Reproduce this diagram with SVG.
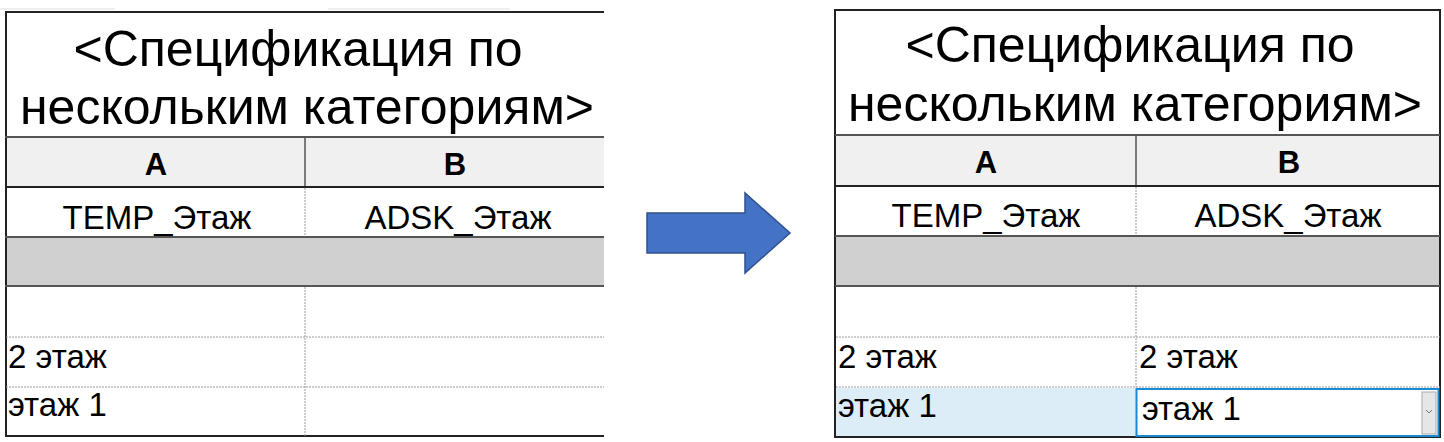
<svg xmlns="http://www.w3.org/2000/svg" width="1444" height="442" viewBox="0 0 1444 442">
<style>
text{font-family:"Liberation Sans",Arial,sans-serif;fill:#000}
.t{font-size:50px}
.h{font-size:31px;font-weight:bold}
.c{font-size:33px}
.dot{stroke:#9a9a9a;stroke-width:1;stroke-dasharray:2 1}
.sol{stroke:#555;stroke-width:2}
</style>
<rect width="1444" height="442" fill="#fff"/>
<g id="left">
<line x1="0" y1="9" x2="115" y2="9" stroke="#ddd"/>
<line x1="328" y1="9" x2="510" y2="9" stroke="#ddd"/>
<rect x="5" y="138" width="599" height="48" fill="#f0f0f0"/>
<rect x="5" y="237" width="599" height="49" fill="#d0d0d0"/>
<path d="M604,12 H6 V436 H604" fill="none" stroke="#222" stroke-width="2"/>
<line x1="5" y1="137" x2="604" y2="137" class="sol"/>
<line x1="5" y1="187" x2="604" y2="187" stroke="#222" stroke-width="2"/>
<line x1="5" y1="237" x2="604" y2="237" class="sol"/>
<line x1="5" y1="286" x2="604" y2="286" class="sol"/>
<line x1="305" y1="137" x2="305" y2="186" stroke="#555" stroke-width="1.5"/>
<line x1="305" y1="188" x2="305" y2="236" class="dot"/>
<line x1="305" y1="287" x2="305" y2="436" class="dot"/>
<line x1="6" y1="337" x2="604" y2="337" class="dot"/>
<line x1="6" y1="387" x2="604" y2="387" class="dot"/>
<text class="t" x="298" y="66" text-anchor="middle">&lt;Спецификация по</text>
<text class="t" x="307" y="124" text-anchor="middle">нескольким категориям&gt;</text>
<text class="h" x="156" y="175" text-anchor="middle">A</text>
<text class="h" x="455" y="175" text-anchor="middle">B</text>
<text class="c" x="157" y="229" text-anchor="middle">TEMP_Этаж</text>
<text class="c" x="458" y="229" text-anchor="middle">ADSK_Этаж</text>
<text class="c" x="8" y="368">2 этаж</text>
<text class="c" x="8" y="416">этаж 1</text>
</g>
<g id="arrow">
<polygon points="647,213 745,213 745,193 790,233 745,273 745,253 647,253" fill="#4472c4" stroke="#2f528f" stroke-width="1.5"/>
</g>
<g id="right">
<rect x="835" y="136" width="605" height="49" fill="#f0f0f0"/>
<rect x="835" y="236" width="605" height="50" fill="#d0d0d0"/>
<rect x="836" y="388" width="300" height="48" fill="#dcedf8"/>
<rect x="835" y="10" width="605" height="427" fill="none" stroke="#222" stroke-width="2"/>
<line x1="835" y1="135" x2="1440" y2="135" class="sol"/>
<line x1="835" y1="186" x2="1440" y2="186" stroke="#222" stroke-width="2"/>
<line x1="835" y1="236" x2="1440" y2="236" class="sol"/>
<line x1="835" y1="286" x2="1440" y2="286" class="sol"/>
<line x1="1136" y1="135" x2="1136" y2="185" stroke="#555" stroke-width="1.5"/>
<line x1="1136" y1="187" x2="1136" y2="235" class="dot"/>
<line x1="1136" y1="287" x2="1136" y2="387" class="dot"/>
<line x1="836" y1="337" x2="1440" y2="337" class="dot"/>
<line x1="836" y1="387" x2="1440" y2="387" class="dot"/>
<rect x="1136.5" y="389" width="302" height="47" fill="#fff" stroke="#1a8ad4" stroke-width="2"/>
<rect x="1422" y="392" width="14" height="42" fill="#e6e6e6" stroke="#aaa"/>
<path d="M1426,410 l3,3 l3,-3" fill="none" stroke="#777"/>
<text class="t" x="1130" y="62" text-anchor="middle">&lt;Спецификация по</text>
<text class="t" x="1135" y="121" text-anchor="middle">нескольким категориям&gt;</text>
<text class="h" x="986" y="173" text-anchor="middle">A</text>
<text class="h" x="1289" y="173" text-anchor="middle">B</text>
<text class="c" x="986" y="227" text-anchor="middle">TEMP_Этаж</text>
<text class="c" x="1288" y="227" text-anchor="middle">ADSK_Этаж</text>
<text class="c" x="838" y="368">2 этаж</text>
<text class="c" x="1139" y="368">2 этаж</text>
<text class="c" x="838" y="417">этаж 1</text>
<text class="c" x="1142" y="420">этаж 1</text>
</g>
</svg>
